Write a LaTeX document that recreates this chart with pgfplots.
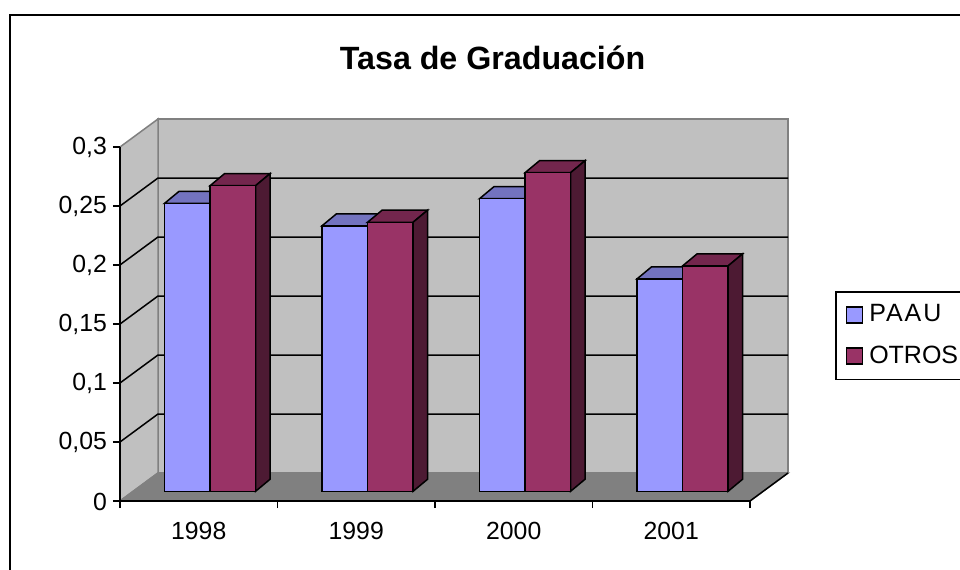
\documentclass[border=0pt]{standalone}
\usepackage{fontspec}
\setmainfont{Liberation Sans}
\usepackage{pgfplots}
\pgfplotsset{compat=1.18}
\definecolor{wall}{HTML}{C0C0C0}
\definecolor{floorc}{HTML}{808080}
\definecolor{blueF}{HTML}{9999FF}
\definecolor{blueT}{HTML}{7373BF}
\definecolor{redF}{HTML}{993366}
\definecolor{redT}{HTML}{73264D}
\definecolor{redS}{HTML}{4D1A33}
\begin{document}
\begin{tikzpicture}
\path[use as bounding box] (0,0) rectangle (480pt,284.5pt);
\clip (0,0) rectangle (480pt,284.5pt);
\fill[white] (0,0) rectangle (480pt,284.5pt);
\draw[black,line width=1pt] (4.75pt,-5pt) -- (4.75pt,277pt) -- (490pt,277pt);
\node[font=\fontsize{16.1}{18}\selectfont\bfseries,anchor=base] at (246.3pt,249.5pt) {Tasa de Graduación};
% front plane: walls, floor, grid, ticks
\begin{axis}[
  at={(60pt,34pt)},anchor=south west,
  scale only axis,width=315pt,height=177pt,
  xmin=-0.5,xmax=3.5,ymin=0,ymax=0.3,
  clip=false,axis on top=true,
  axis x line*=bottom,axis y line*=left,
  axis line style={-,black,line width=0.75pt},
  xtick={0,1,2,3},xticklabels={1998,1999,2000,2001},
  minor xtick={-0.5,0.5,1.5,2.5,3.5},
  major x tick style={draw=none},
  minor x tick style={black,line width=0.75pt},
  minor tick length=3.5pt,
  ytick={0,0.05,0.1,0.15,0.2,0.25,0.3},
  yticklabels={0,{0,05},{0,1},{0,15},{0,2},{0,25},{0,3}},
  major y tick style={black,line width=0.75pt},
  major tick length=3.5pt,
  tick align=outside,
  xticklabel style={font=\fontsize{12.4}{14}\selectfont,yshift=-3.5pt},
  yticklabel style={font=\fontsize{12.4}{14}\selectfont,xshift=0.5pt,yshift=-0.4pt},
]
\addplot[fill=wall,draw=floorc,line width=0.75pt] coordinates {(-0.2587,0.02373)(3.7413,0.02373)(3.7413,0.32373)(-0.2587,0.32373)} -- cycle;
\addplot[fill=wall,draw=floorc,line width=0.75pt] coordinates {(-0.5,0)(-0.2587,0.02373)(-0.2587,0.32373)(-0.5,0.3)} -- cycle;
\addplot[fill=floorc,draw=floorc,line width=0.75pt] coordinates {(-0.5,0)(3.5,0)(3.7413,0.02373)(-0.2587,0.02373)} -- cycle;
\addplot[black,line width=0.75pt] coordinates {(3.5,0)(3.7413,0.02373)};
\addplot[black,line width=0.75pt] coordinates {(-0.5,0.05)(-0.2587,0.07373)(3.7413,0.07373)};
\addplot[black,line width=0.75pt] coordinates {(-0.5,0.10)(-0.2587,0.12373)(3.7413,0.12373)};
\addplot[black,line width=0.75pt] coordinates {(-0.5,0.15)(-0.2587,0.17373)(3.7413,0.17373)};
\addplot[black,line width=0.75pt] coordinates {(-0.5,0.20)(-0.2587,0.22373)(3.7413,0.22373)};
\addplot[black,line width=0.75pt] coordinates {(-0.5,0.25)(-0.2587,0.27373)(3.7413,0.27373)};
\end{axis}
% bar plane
\begin{axis}[
  at={(65.65pt,38.85pt)},anchor=south west,
  scale only axis,width=315pt,height=177pt,
  xmin=-0.5,xmax=3.5,ymin=0,ymax=0.3,
  clip=false,hide axis,
  legend style={at={(1.1170,0.5658)},anchor=north west,draw=black,line width=0.75pt,
    font=\fontsize{12.5}{14}\selectfont,legend cell align=left,
    inner xsep=5pt,inner ysep=4.5pt,row sep=6.5pt,
    nodes={inner xsep=3pt}},
]
% tops of the blue bars
\addplot[fill=blueT,draw=black,line width=0.75pt,forget plot] coordinates {(-0.289,0.244)(0,0.244)(0.092,0.2542)(-0.197,0.2542)} -- cycle;
\addplot[fill=blueT,draw=black,line width=0.75pt,forget plot] coordinates {(0.711,0.225)(1,0.225)(1.092,0.2352)(0.803,0.2352)} -- cycle;
\addplot[fill=blueT,draw=black,line width=0.75pt,forget plot] coordinates {(1.711,0.248)(2,0.248)(2.092,0.2582)(1.803,0.2582)} -- cycle;
\addplot[fill=blueT,draw=black,line width=0.75pt,forget plot] coordinates {(2.711,0.18)(3,0.18)(3.092,0.1902)(2.803,0.1902)} -- cycle;
% tops of the red bars
\addplot[fill=redT,draw=black,line width=0.75pt,forget plot] coordinates {(0,0.259)(0.289,0.259)(0.381,0.2692)(0.092,0.2692)} -- cycle;
\addplot[fill=redT,draw=black,line width=0.75pt,forget plot] coordinates {(1,0.228)(1.289,0.228)(1.381,0.2382)(1.092,0.2382)} -- cycle;
\addplot[fill=redT,draw=black,line width=0.75pt,forget plot] coordinates {(2,0.27)(2.289,0.27)(2.381,0.2802)(2.092,0.2802)} -- cycle;
\addplot[fill=redT,draw=black,line width=0.75pt,forget plot] coordinates {(3,0.191)(3.289,0.191)(3.381,0.2012)(3.092,0.2012)} -- cycle;
% sides of the red bars
\addplot[fill=redS,draw=black,line width=0.75pt,forget plot] coordinates {(0.289,0)(0.381,0.0102)(0.381,0.2692)(0.289,0.259)} -- cycle;
\addplot[fill=redS,draw=black,line width=0.75pt,forget plot] coordinates {(1.289,0)(1.381,0.0102)(1.381,0.2382)(1.289,0.228)} -- cycle;
\addplot[fill=redS,draw=black,line width=0.75pt,forget plot] coordinates {(2.289,0)(2.381,0.0102)(2.381,0.2802)(2.289,0.27)} -- cycle;
\addplot[fill=redS,draw=black,line width=0.75pt,forget plot] coordinates {(3.289,0)(3.381,0.0102)(3.381,0.2012)(3.289,0.191)} -- cycle;
% fronts
\addplot[ybar,bar width=0.289,bar shift=-0.1445,fill=blueF,draw=black,line width=0.75pt,
  legend image code/.code={\draw[black,line width=0.75pt,fill=blueF] (0pt,-4pt) rectangle (8pt,4pt);}]
  coordinates {(0,0.244)(1,0.225)(2,0.248)(3,0.18)};
\addlegendentry{{\addfontfeature{LetterSpace=8}PAAU}}
\addplot[ybar,bar width=0.289,bar shift=0.1445,fill=redF,draw=black,line width=0.75pt,
  legend image code/.code={\draw[black,line width=0.75pt,fill=redF] (0pt,-4pt) rectangle (8pt,4pt);}]
  coordinates {(0,0.259)(1,0.228)(2,0.27)(3,0.191)};
\addlegendentry{OTROS\hspace{6pt}}
\end{axis}
\end{tikzpicture}
\end{document}
